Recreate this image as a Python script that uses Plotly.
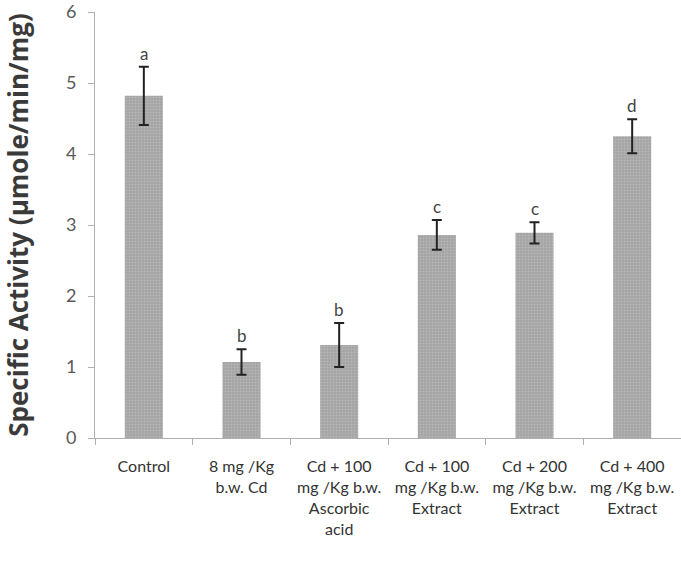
import plotly.graph_objects as go

categories = ["Control", "8 mg /Kg<br>b.w. Cd", "Cd + 100<br>mg /Kg b.w.<br>Ascorbic<br>acid",
              "Cd + 100<br>mg /Kg b.w.<br>Extract", "Cd + 200<br>mg /Kg b.w.<br>Extract",
              "Cd + 400<br>mg /Kg b.w.<br>Extract"]
values = [4.82, 1.07, 1.31, 2.86, 2.89, 4.25]
errors = [0.41, 0.18, 0.31, 0.21, 0.15, 0.24]
letters = ["a", "b", "b", "c", "c", "d"]
y_ticks = [0, 1, 2, 3, 4, 5, 6]

FONT = "Lato"

fig = go.Figure()
fig.add_trace(go.Bar(
    x=categories, y=values, width=0.39,
    marker=dict(color="#a6a6a6", line=dict(width=0),
                pattern=dict(shape=".", fgcolor="#cccccc", bgcolor="#a3a3a3", size=3, solidity=0.35)),
    error_y=dict(type="data", array=errors, visible=True, color="#222222", thickness=2, width=5),
))
for c, v, e, l in zip(categories, values, errors, letters):
    fig.add_annotation(x=c, y=v + e, text=l, showarrow=False, yanchor="bottom", yshift=1,
                       font=dict(family=FONT, size=17, color="#444444"))

fig.update_layout(
    width=681, height=561,
    margin=dict(l=95, r=0, t=12, b=123),
    paper_bgcolor="white", plot_bgcolor="white",
    showlegend=False, bargap=0.61,
    font=dict(family=FONT, color="#333333"),
)
fig.update_xaxes(showline=True, linecolor="#b0b0b0", linewidth=1, ticks="outside", tickson="boundaries",
                 ticklen=6, tickcolor="#b0b0b0", tickfont=dict(family=FONT, size=16, color="#333333"),
                 showgrid=False, automargin=False, ticklabelstandoff=14)
fig.update_yaxes(range=[0, 6], tickvals=y_ticks, showline=True, linecolor="#b0b0b0", linewidth=1,
                 ticks="outside", ticklen=6, tickcolor="#b0b0b0", showgrid=False, zeroline=False,
                 automargin=False, ticklabelstandoff=8,
                 tickfont=dict(family=FONT, size=18, color="#5a5a5a"),
                 title=dict(text="<b>Specific Activity (µmole/min/mg)</b>",
                            font=dict(family="Open Sans", size=26, color="#3a3a3a"), standoff=34))
fig.write_html("out.html", config={"displayModeBar": False},
               post_script="document.body.style.margin='0';")
